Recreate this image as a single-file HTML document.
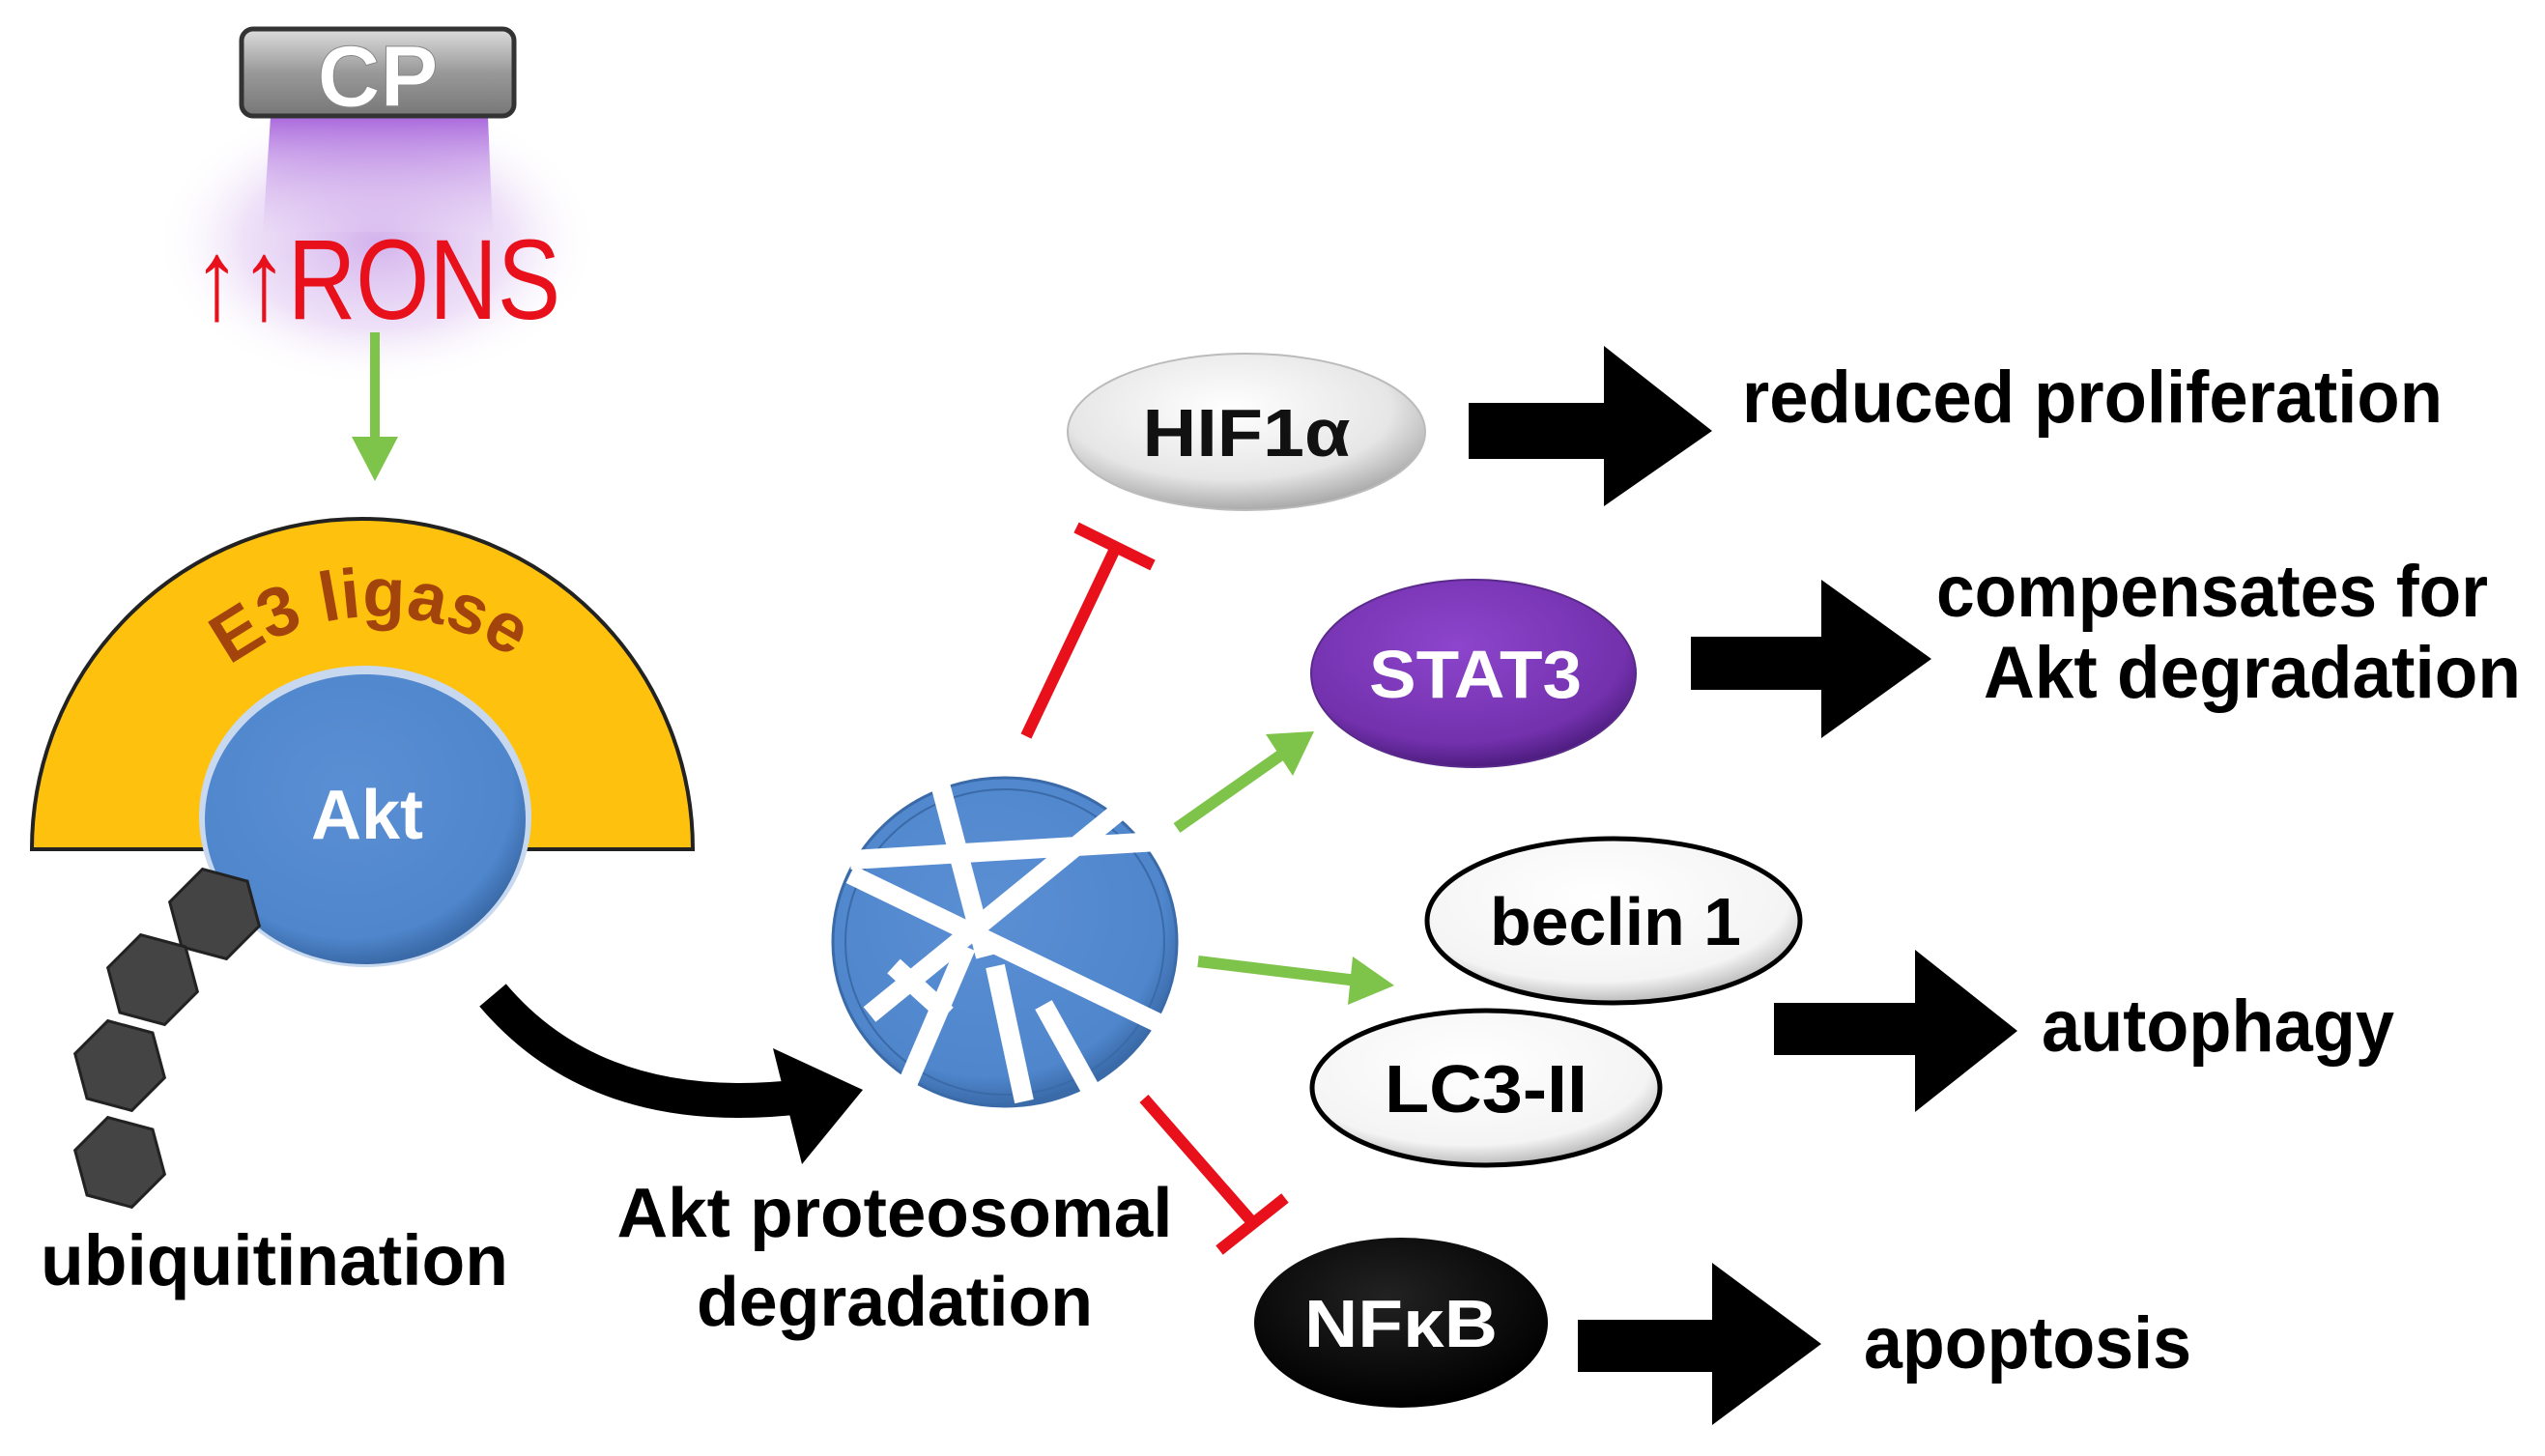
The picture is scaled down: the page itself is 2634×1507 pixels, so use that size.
<!DOCTYPE html>
<html><head><meta charset="utf-8"><style>html,body{margin:0;padding:0;background:#fff}svg{display:block}</style></head><body>
<svg width="2634" height="1507" viewBox="0 0 2634 1507" xmlns="http://www.w3.org/2000/svg" font-family="Liberation Sans, sans-serif" font-weight="bold">
<defs>
<radialGradient id="glow" cx="50%" cy="50%" r="50%"><stop offset="0" stop-color="#c9a0e8" stop-opacity="0.8"/><stop offset="0.6" stop-color="#e3cdf3" stop-opacity="0.6"/><stop offset="1" stop-color="#fff" stop-opacity="0"/></radialGradient>
<linearGradient id="beam" x1="0" y1="0" x2="0" y2="1"><stop offset="0" stop-color="#9b4fd6"/><stop offset="1" stop-color="#e6d3f5" stop-opacity="0.3"/></linearGradient>
<linearGradient id="cp" x1="0" y1="0" x2="0" y2="1"><stop offset="0" stop-color="#ddd"/><stop offset="0.5" stop-color="#999"/><stop offset="1" stop-color="#777"/></linearGradient>
<radialGradient id="grey" cx="45%" cy="35%" r="65%"><stop offset="0" stop-color="#fff"/><stop offset="0.7" stop-color="#e6e6e6"/><stop offset="1" stop-color="#aaa"/></radialGradient>
<radialGradient id="white" cx="45%" cy="35%" r="65%"><stop offset="0" stop-color="#fff"/><stop offset="0.8" stop-color="#f4f4f4"/><stop offset="1" stop-color="#bbb"/></radialGradient>
<radialGradient id="purple" cx="45%" cy="35%" r="65%"><stop offset="0" stop-color="#8c45cc"/><stop offset="0.8" stop-color="#7331ad"/><stop offset="1" stop-color="#4e1d80"/></radialGradient>
<radialGradient id="blue" cx="45%" cy="40%" r="60%"><stop offset="0" stop-color="#5b8fd4"/><stop offset="0.85" stop-color="#4f86cc"/><stop offset="1" stop-color="#3a6aa8"/></radialGradient>
<radialGradient id="black" cx="45%" cy="35%" r="65%"><stop offset="0" stop-color="#222"/><stop offset="1" stop-color="#000"/></radialGradient>
<path id="e3arc" d="M 200 725 A 250 250 0 0 1 570 715"/>
<polygon id="hex" points="48,0 24,41.6 -24,41.6 -48,0 -24,-41.6 24,-41.6"/>
</defs>

<!-- CP glow -->
<ellipse cx="390" cy="250" rx="230" ry="150" fill="url(#glow)"/>
<path d="M 280 121 L 505 121 L 510 240 L 272 240 Z" fill="url(#beam)" opacity="0.85"/>
<rect x="250" y="30" width="282" height="90" rx="12" fill="url(#cp)" stroke="#333" stroke-width="5"/>
<text x="391" y="110" font-size="90" fill="#fff" text-anchor="middle" stroke="#888" stroke-width="1">CP</text>
<text x="390" y="330" font-size="118" font-weight="normal" fill="#e8101a" text-anchor="middle" textLength="380" lengthAdjust="spacingAndGlyphs">↑↑RONS</text>

<!-- green arrow down -->
<line x1="388" y1="344" x2="388" y2="455" stroke="#7fc44a" stroke-width="10"/>
<polygon points="364,452 412,452 388,498" fill="#7fc44a"/>

<!-- E3 half-disk -->
<path d="M 33 879 A 342 342 0 0 1 717 879 Z" fill="#fec20e" stroke="#222" stroke-width="4"/>
<text font-size="72" fill="#a2440c"><textPath href="#e3arc" startOffset="50%" text-anchor="middle">E3 ligase</textPath></text>

<!-- Akt -->
<ellipse cx="378" cy="845" rx="172" ry="156" fill="#c8d8ee"/>
<ellipse cx="378" cy="848" rx="166" ry="150" fill="url(#blue)"/>
<text x="380" y="868" font-size="72" fill="#fff" text-anchor="middle">Akt</text>

<!-- hexagons -->
<g fill="#444" stroke="#222" stroke-width="3">
<use href="#hex" transform="translate(222,946) rotate(15)"/>
<use href="#hex" transform="translate(158,1014) rotate(15)"/>
<use href="#hex" transform="translate(124,1103) rotate(15)"/>
<use href="#hex" transform="translate(124,1203) rotate(15)"/>
</g>
<text x="284" y="1330" font-size="74" fill="#000" text-anchor="middle" textLength="484" lengthAdjust="spacingAndGlyphs">ubiquitination</text>

<!-- curved black arrow -->
<path d="M 510 1030 Q 620 1160 830 1135" fill="none" stroke="#000" stroke-width="36"/>
<polygon points="800,1085 893,1128 830,1205" fill="#000"/>

<!-- proteasome -->
<ellipse cx="1040" cy="975" rx="178" ry="170" fill="url(#blue)" stroke="#3a6aa8" stroke-width="3"/>
<ellipse cx="1040" cy="975" rx="165" ry="158" fill="none" stroke="#3a6aa8" stroke-width="2"/>
<g stroke="#fff" stroke-width="20" stroke-linecap="butt">
<line x1="880" y1="890" x2="1215" y2="870"/>
<line x1="880" y1="905" x2="1222" y2="1070"/>
<line x1="900" y1="1050" x2="1170" y2="830"/>
<line x1="1000" y1="980" x2="940" y2="1120"/>
<line x1="970" y1="800" x2="1020" y2="990"/>
<line x1="1030" y1="1000" x2="1060" y2="1140"/>
<line x1="1080" y1="1040" x2="1130" y2="1130"/>
<line x1="925" y1="1000" x2="980" y2="1050"/>
</g>
<text x="926" y="1280" font-size="72" fill="#000" text-anchor="middle" textLength="575" lengthAdjust="spacingAndGlyphs">Akt proteosomal</text>
<text x="926" y="1372" font-size="72" fill="#000" text-anchor="middle" textLength="410" lengthAdjust="spacingAndGlyphs">degradation</text>

<!-- red inhibitors -->
<g stroke="#e8101a" stroke-width="12">
<line x1="1062" y1="762" x2="1155" y2="566"/>
<line x1="1114" y1="546" x2="1193" y2="585"/>
<line x1="1184" y1="1137" x2="1296" y2="1265"/>
<line x1="1262" y1="1294" x2="1330" y2="1240"/>
</g>

<!-- green arrows -->
<line x1="1218" y1="857" x2="1325" y2="782" stroke="#7fc44a" stroke-width="12"/>
<polygon points="1310,760 1360,757 1338,803" fill="#7fc44a"/>
<line x1="1240" y1="995" x2="1405" y2="1015" stroke="#7fc44a" stroke-width="12"/>
<polygon points="1400,990 1443,1020 1395,1040" fill="#7fc44a"/>

<!-- nodes -->
<ellipse cx="1290" cy="447" rx="185" ry="81" fill="url(#grey)" stroke="#bbb" stroke-width="2"/>
<text x="1290" y="472" font-size="70" fill="#111" text-anchor="middle" textLength="215" lengthAdjust="spacingAndGlyphs">HIF1α</text>

<ellipse cx="1525" cy="697" rx="168" ry="97" fill="url(#purple)" stroke="#5a2a8a" stroke-width="2"/>
<text x="1527" y="722" font-size="70" fill="#fff" text-anchor="middle" textLength="220" lengthAdjust="spacingAndGlyphs">STAT3</text>

<ellipse cx="1670" cy="953" rx="193" ry="85" fill="url(#white)" stroke="#000" stroke-width="5"/>
<text x="1672" y="978" font-size="70" fill="#000" text-anchor="middle" textLength="260" lengthAdjust="spacingAndGlyphs">beclin 1</text>

<ellipse cx="1538" cy="1126" rx="180" ry="80" fill="url(#white)" stroke="#000" stroke-width="5"/>
<text x="1538" y="1151" font-size="70" fill="#000" text-anchor="middle" textLength="210" lengthAdjust="spacingAndGlyphs">LC3-II</text>

<ellipse cx="1450" cy="1369" rx="152" ry="88" fill="url(#black)"/>
<text x="1450" y="1394" font-size="70" fill="#fff" text-anchor="middle" textLength="200" lengthAdjust="spacingAndGlyphs">NFκB</text>

<!-- block arrows -->
<g fill="#000">
<polygon points="1520,417 1660,417 1660,358 1772,446 1660,524 1660,475 1520,475"/>
<polygon points="1750,659 1885,659 1885,600 1999,682 1885,764 1885,714 1750,714"/>
<polygon points="1836,1038 1982,1038 1982,983 2088,1067 1982,1151 1982,1092 1836,1092"/>
<polygon points="1633,1366 1772,1366 1772,1307 1885,1391 1772,1475 1772,1420 1633,1420"/>
</g>

<!-- outcome text -->
<g font-size="76" fill="#000">
<text x="1803" y="437" textLength="725" lengthAdjust="spacingAndGlyphs">reduced proliferation</text>
<text x="2004" y="638" textLength="571" lengthAdjust="spacingAndGlyphs">compensates for</text>
<text x="2053" y="722" textLength="556" lengthAdjust="spacingAndGlyphs">Akt degradation</text>
<text x="2113" y="1088" textLength="365" lengthAdjust="spacingAndGlyphs">autophagy</text>
<text x="1929" y="1416" textLength="339" lengthAdjust="spacingAndGlyphs">apoptosis</text>
</g>
</svg>
</body></html>
